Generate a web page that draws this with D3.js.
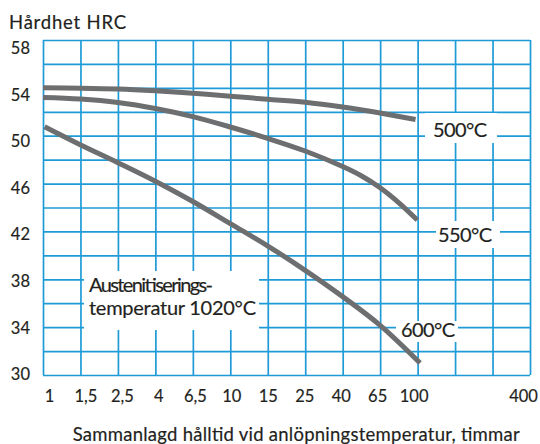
<!DOCTYPE html>
<html>
<head>
<meta charset="utf-8">
<script src="https://cdn.jsdelivr.net/npm/d3@7"></script>
<style>
  html, body { margin: 0; padding: 0; background: #fff; }
  svg { display: block; }
  text { font-family: Lato, "Open Sans", sans-serif; fill: #231f20; stroke: #231f20; stroke-width: 0.18px; }
</style>
</head>
<body>
<svg id="chart" width="540" height="444"></svg>
<script>
// Hardness after tempering (HRC) versus total holding time at tempering temperature (h)
const gridHours = d3.range(14).map(k => Math.pow(10, 0.2 * k));
const xTickLabels = ["1", "1,5", "2,5", "4", "6,5", "10", "15", "25", "40", "65", "100", "", "", "400"];
const yGrid = d3.range(30, 59, 2);
const yTickValues = [30, 34, 38, 42, 46, 50, 54, 58];

const hours500 = [1, 1.58, 2.51, 3.98, 6.31, 10, 15.8, 25.1, 39.8, 63.1, 97.5];
const hrc500   = [54.0, 53.97, 53.9, 53.75, 53.55, 53.3, 53.05, 52.8, 52.4, 51.9, 51.35];

const hours550 = [1, 1.58, 2.51, 3.98, 6.31, 10, 15.8, 25.1, 39.8, 50, 63.1, 80, 99.6];
const hrc550   = [53.2, 53.07, 52.78, 52.28, 51.6, 50.73, 49.78, 48.72, 47.42, 46.65, 45.65, 44.35, 42.95];

const hours600 = [1.02, 1.58, 2.51, 3.98, 6.31, 10, 15.8, 25.1, 39.8, 63.1, 103];
const hrc600   = [50.75, 49.25, 47.75, 46.2, 44.5, 42.65, 40.8, 38.75, 36.55, 34.15, 31.0];

const seriesNames = ["500°C", "550°C", "600°C"];
const series = [
  { name: seriesNames[0], hours: hours500, hrc: hrc500 },
  { name: seriesNames[1], hours: hours550, hrc: hrc550 },
  { name: seriesNames[2], hours: hours600, hrc: hrc600 }
];

const svg = d3.select("#chart");
const plotLeft = 43, plotRight = 530, plotTop = 40, plotBottom = 375;
const gridColor = "#1e9bd7";
const lineColor = "#6d6e70";

const x = d3.scaleLog().domain([1, Math.pow(10, 2.6)]).range([plotLeft, plotRight]);
const y = d3.scaleLinear().domain([30, 58]).range([plotBottom, plotTop]);
// tick labels sit on a slightly narrower band than the grid
const xLab = d3.scaleLog().domain([1, Math.pow(10, 2.6)]).range([49, 523]);
const yLab = d3.scaleLinear().domain([30, 58]).range([373.8, 47.5]);

// grid
const grid = svg.append("g");
grid.append("g")
  .attr("transform", `translate(0,${plotBottom})`)
  .call(d3.axisBottom(x).tickValues(gridHours).tickSize(-(plotBottom - plotTop)).tickFormat(""))
  .call(g => g.select(".domain").remove());
grid.append("g")
  .attr("transform", `translate(${plotLeft},0)`)
  .call(d3.axisLeft(y).tickValues(yGrid).tickSize(-(plotRight - plotLeft)).tickFormat(""))
  .call(g => g.select(".domain").remove());
grid.selectAll("line").attr("stroke", gridColor).attr("stroke-width", 1.7);

// white label plates that interrupt the grid
const plates = [
  [425, 113, 72, 30],
  [436, 221, 64, 27],
  [396, 321, 62, 21],
  [84, 271, 175, 59]
];
svg.append("g").selectAll("rect").data(plates).join("rect")
  .attr("x", d => d[0]).attr("y", d => d[1])
  .attr("width", d => d[2]).attr("height", d => d[3])
  .attr("fill", "#fff");

// curves
const line = d3.line()
  .x(d => x(d[0]))
  .y(d => y(d[1]))
  .curve(d3.curveCatmullRom.alpha(0.5));
svg.append("g").selectAll("path").data(series).join("path")
  .attr("d", s => line(s.hours.map((h, i) => [h, s.hrc[i]])))
  .attr("fill", "none")
  .attr("stroke", lineColor)
  .attr("stroke-width", 5);

// axes labels
const xAxis = svg.append("g")
  .attr("transform", `translate(0,${plotBottom})`)
  .call(d3.axisBottom(xLab).tickValues(gridHours).tickSize(0).tickPadding(0)
    .tickFormat((d, i) => xTickLabels[i]));
xAxis.select(".domain").remove();
xAxis.selectAll("text")
  .attr("y", 26.7).attr("dy", null)
  .style("font-size", "16.5px");

const yAxis = svg.append("g")
  .attr("transform", "translate(30,0)")
  .call(d3.axisLeft(yLab).tickValues(yTickValues).tickSize(0).tickPadding(0)
    .tickFormat(d => d));
yAxis.select(".domain").remove();
yAxis.selectAll("text")
  .attr("dy", "0.36em")
  .style("font-size", "16.5px");

svg.append("text").attr("x", 9).attr("y", 29.3)
  .attr("textLength", 117).attr("lengthAdjust", "spacing")
  .style("font-size", "18.5px").text("Hårdhet HRC");

svg.append("text").attr("x", 72.7).attr("y", 440.5)
  .attr("textLength", 447).attr("lengthAdjust", "spacing")
  .style("font-size", "18.5px")
  .text("Sammanlagd hålltid vid anlöpningstemperatur, timmar");

// curve labels
const curveLabels = [
  { text: seriesNames[0], x: 433, y: 137.3 },
  { text: seriesNames[1], x: 438, y: 241.7 },
  { text: seriesNames[2], x: 401, y: 337.3 }
];
svg.append("g").selectAll("text").data(curveLabels).join("text")
  .attr("x", d => d.x).attr("y", d => d.y)
  .attr("textLength", 54).attr("lengthAdjust", "spacing")
  .style("font-size", "20px").text(d => d.text);

const note = svg.append("g").style("font-size", "20px");
note.append("text").attr("x", 89).attr("y", 291.7)
  .attr("textLength", 124).attr("lengthAdjust", "spacing").text("Austenitiserings-");
note.append("text").attr("x", 89).attr("y", 315)
  .attr("textLength", 167).attr("lengthAdjust", "spacing").text("temperatur 1020°C");
</script>
</body>
</html>
